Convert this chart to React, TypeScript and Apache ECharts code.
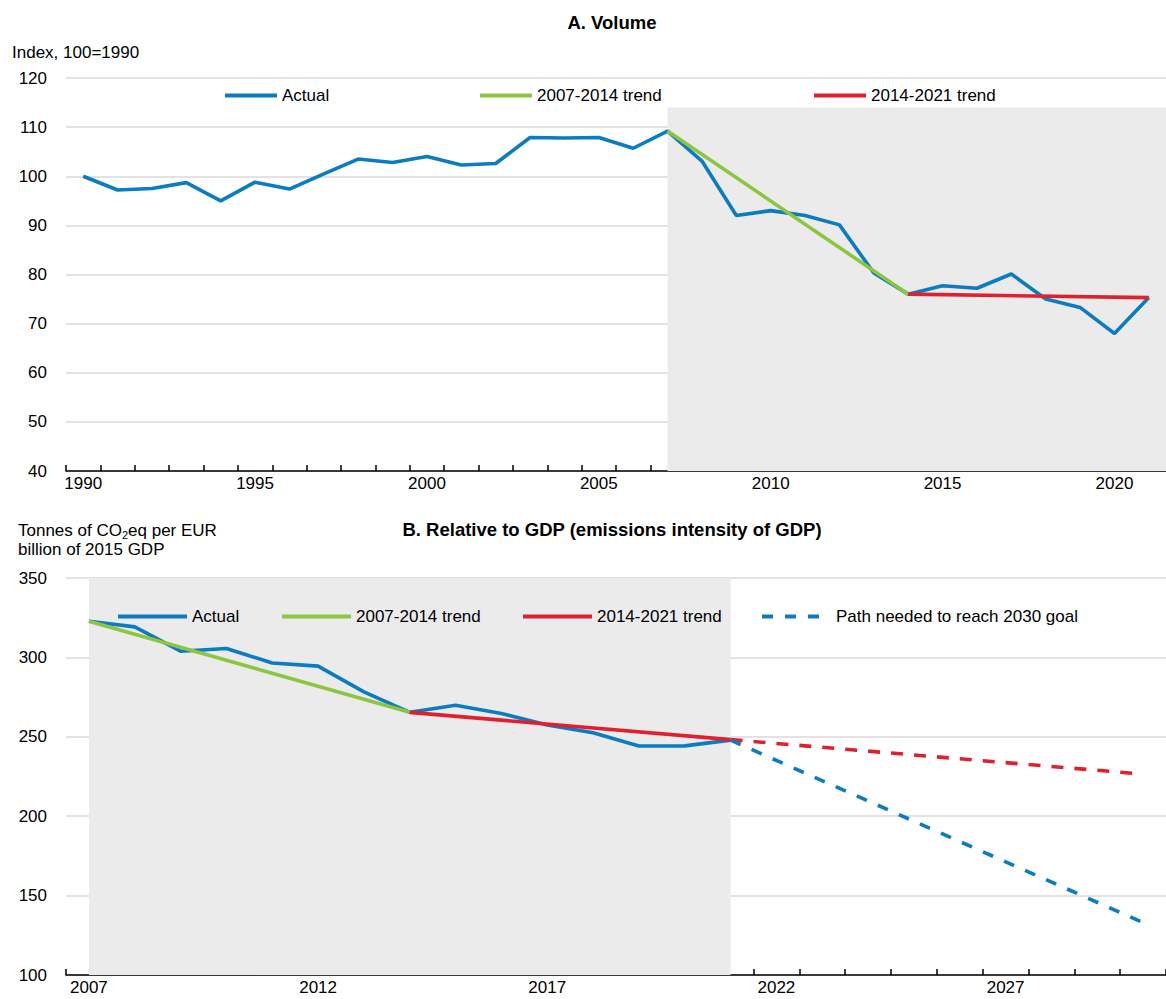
import React, { useEffect, useRef } from 'react';
import * as echarts from 'echarts';

const FONT = '"Liberation Sans", Arial, sans-serif';

// Panel A: volume
const volumeYears = ['1990', '1991', '1992', '1993', '1994', '1995', '1996', '1997', '1998', '1999', '2000', '2001', '2002', '2003', '2004', '2005', '2006', '2007', '2008', '2009', '2010', '2011', '2012', '2013', '2014', '2015', '2016', '2017', '2018', '2019', '2020', '2021'];
const volumeActual = [100, 97.2, 97.5, 98.7, 95.0, 98.8, 97.4, 100.5, 103.5, 102.8, 104.0, 102.3, 102.6, 107.9, 107.8, 107.9, 105.7, 109.2, 103.1, 92.0, 93.0, 92.0, 90.1, 80.3, 76.0, 77.7, 77.2, 80.1, 75.0, 73.3, 68.0, 75.3];
const volumeTrend0714 = [['2007', 109.2], ['2014', 76.0]];
const volumeTrend1421 = [['2014', 76.0], ['2021', 75.3]];
const volumeShadeStart = '2007';
const volumeShadeTop = 114;

// Panel B: intensity
const intensityYears = ['2007', '2008', '2009', '2010', '2011', '2012', '2013', '2014', '2015', '2016', '2017', '2018', '2019', '2020', '2021', '2022', '2023', '2024', '2025', '2026', '2027', '2028', '2029', '2030'];
const intensityActual = [322.8, 319.2, 303.9, 305.6, 296.5, 294.5, 278.3, 265.4, 269.9, 264.7, 257.4, 252.5, 244.2, 244.3, 247.9];
const intensityTrend0714 = [['2007', 322.8], ['2014', 265.4]];
const intensityTrend1421 = [['2014', 265.4], ['2021', 248.2]];
const intensityTrend1421Ext = [['2021', 248.2], ['2030', 226.5]];
const intensityGoalPath = [['2021', 247.9], ['2030', 133.0]];
const intensityShade = ['2007', '2021'];

const BLUE = '#0B7CC1';
const GREEN = '#8CC63F';
const RED = '#E0202E';
const SHADE = '#EBEBEB';
const GRIDLINE = '#D9D9D9';

export default function App() {
  const ref = useRef<HTMLDivElement>(null);

  useEffect(() => {
    if (!ref.current) return;
    const chart = echarts.init(ref.current, undefined, { renderer: 'svg' });

    const xAxisBase = (gridIndex: number, data: string[]) => ({
      type: 'category',
      gridIndex,
      data,
      boundaryGap: true,
      axisLine: { show: true, lineStyle: { color: '#000', width: 1.5 } },
      axisTick: { show: true, inside: true, length: 6, interval: 0, lineStyle: { color: '#000', width: 1.5 } },
      axisLabel: { interval: 4, color: '#000', fontSize: 17, fontFamily: FONT, margin: 4 },
      splitLine: { show: false },
    });
    const yAxisBase = (gridIndex: number, min: number, max: number, interval: number) => ({
      type: 'value',
      gridIndex,
      min,
      max,
      interval,
      axisLine: { show: false },
      axisTick: { show: false },
      axisLabel: { color: '#000', fontSize: 17, fontFamily: FONT, margin: 19 },
      splitLine: { show: true, lineStyle: { color: GRIDLINE, width: 1.5 } },
    });

    const lineSeries = (name: string, xi: number, data: any, color: string, dashed?: number[]) => ({
      name,
      type: 'line',
      xAxisIndex: xi,
      yAxisIndex: xi,
      data,
      symbol: 'none',
      showSymbol: false,
      lineStyle: { color, width: 3.6, type: dashed ? dashed : 'solid' },
      itemStyle: { color },
      z: 3,
    });

    const legendItem = (name: string, left: number, top: number, w: number) => ({
      data: [name],
      left,
      top,
      itemWidth: w,
      itemHeight: 14,
      padding: 0,
      itemStyle: { opacity: 0 },
      lineStyle: { width: 4 },
      textStyle: { color: '#000', fontSize: 17, fontFamily: FONT },
      selectedMode: false,
    });

    chart.setOption({
      animation: false,
      textStyle: { fontFamily: FONT },
      grid: [
        { left: 66, right: 0, top: 78, height: 393 },
        { left: 66, right: 0, top: 578, height: 397 },
      ],
      xAxis: [xAxisBase(0, volumeYears), xAxisBase(1, intensityYears)],
      yAxis: [yAxisBase(0, 40, 120, 10), yAxisBase(1, 100, 350, 50)],
      legend: [
        legendItem('Actual', 223, 87, 52),
        legendItem('2007-2014 trend', 478, 87, 52),
        legendItem('2014-2021 trend', 812, 87, 52),
        legendItem('Actual ', 116, 608, 69),
        legendItem('2007-2014 trend ', 280, 608, 69),
        legendItem('2014-2021 trend ', 521, 608, 69),
        legendItem('Path needed to reach 2030 goal', 760, 608, 69),
      ],
      graphic: [
        { type: 'text', x: 612, y: 22, style: { text: 'A. Volume', fontSize: 18.5, fontWeight: 'bold', fontFamily: FONT, fill: '#000', textAlign: 'center', textVerticalAlign: 'middle' } },
        { type: 'text', x: 12, y: 52, style: { text: 'Index, 100=1990', fontSize: 17, fontFamily: FONT, fill: '#000', textAlign: 'left', textVerticalAlign: 'middle' } },
        { type: 'text', x: 612, y: 529, style: { text: 'B. Relative to GDP (emissions intensity of GDP)', fontSize: 18.5, fontWeight: 'bold', fontFamily: FONT, fill: '#000', textAlign: 'center', textVerticalAlign: 'middle' } },
        {
          type: 'text', x: 18, y: 530,
          style: {
            text: 'Tonnes of CO{sub|2}eq per EUR',
            fontSize: 17, fontFamily: FONT, fill: '#000', textAlign: 'left', textVerticalAlign: 'middle',
            rich: { sub: { fontSize: 11, fontFamily: FONT, fill: '#000', padding: [9, 0, 0, 0] } },
          },
        },
        { type: 'text', x: 18, y: 549, style: { text: 'billion of 2015 GDP', fontSize: 17, fontFamily: FONT, fill: '#000', textAlign: 'left', textVerticalAlign: 'middle' } },
      ],
      series: [
        {
          name: 'shade-a', type: 'line', xAxisIndex: 0, yAxisIndex: 0, data: [], z: -1, silent: true,
          markArea: { silent: true, itemStyle: { color: SHADE, opacity: 1 }, data: [[{ xAxis: volumeShadeStart, yAxis: volumeShadeTop }, { yAxis: 40 }]] },
        },
        {
          name: 'shade-b', type: 'line', xAxisIndex: 1, yAxisIndex: 1, data: [], z: -1, silent: true,
          markArea: { silent: true, itemStyle: { color: SHADE, opacity: 1 }, data: [[{ xAxis: intensityShade[0], yAxis: 350 }, { xAxis: intensityShade[1], yAxis: 100 }]] },
        },
        lineSeries('Actual', 0, volumeActual, BLUE),
        { ...lineSeries('2007-2014 trend', 0, volumeTrend0714, GREEN), z: 4 },
        { ...lineSeries('2014-2021 trend', 0, volumeTrend1421, RED), z: 4 },
        lineSeries('Actual ', 1, intensityActual, BLUE),
        { ...lineSeries('2007-2014 trend ', 1, intensityTrend0714, GREEN), z: 4 },
        { ...lineSeries('2014-2021 trend ', 1, intensityTrend1421, RED), z: 4 },
        { ...lineSeries('2014-2021 trend extension', 1, intensityTrend1421Ext, RED, [12, 11]), z: 4 },
        { ...lineSeries('Path needed to reach 2030 goal', 1, intensityGoalPath, BLUE, [11, 12]), z: 4 },
      ],
    });

    return () => chart.dispose();
  }, []);

  return <div ref={ref} style={{ position: 'absolute', left: 0, top: 0, width: 1166, height: 999 }} />;
}
